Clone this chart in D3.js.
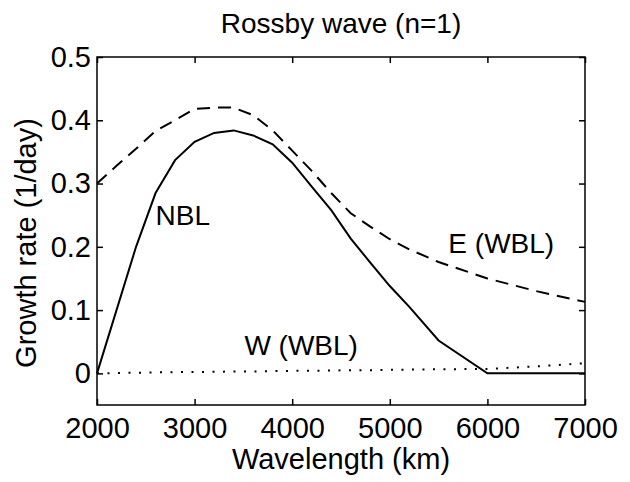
<!DOCTYPE html>
<html>
<head>
<meta charset="utf-8">
<script src="https://cdn.jsdelivr.net/npm/d3@7"></script>
<style>
  body { margin: 0; background: #fff; }
  text { font-family: "Liberation Sans", Arial, Helvetica, sans-serif; fill: #000; }
</style>
</head>
<body>
<div id="chart"></div>
<script>
// wavelength (km) and growth rate (1/day)
const wavelength = [2000, 2200, 2400, 2600, 2800, 3000, 3200, 3400, 3600, 3800, 4000, 4200, 4400, 4600, 4800, 5000, 5200, 5500, 6000, 6500, 7000];
const nbl      = [0, 0.10, 0.20, 0.285, 0.337, 0.366, 0.380, 0.384, 0.376, 0.362, 0.333, 0.295, 0.258, 0.213, 0.175, 0.138, 0.105, 0.052, 0, 0, 0];
const eastWbl  = [0.30, 0.328, 0.355, 0.383, 0.400, 0.418, 0.420, 0.420, 0.408, 0.384, 0.352, 0.320, 0.285, 0.253, 0.232, 0.212, 0.196, 0.176, 0.150, 0.130, 0.113];
const westWbl  = [0, 0.0005, 0.001, 0.0015, 0.002, 0.002, 0.0025, 0.003, 0.003, 0.0035, 0.004, 0.004, 0.0045, 0.005, 0.005, 0.0055, 0.006, 0.0065, 0.007, 0.011, 0.016];

const xTicks = [2000, 3000, 4000, 5000, 6000, 7000];
const yTicks = [0, 0.1, 0.2, 0.3, 0.4, 0.5];

const W = 630, H = 482;
const margin = {top: 57, right: 45, bottom: 77, left: 97};
const w = W - margin.left - margin.right,
      h = H - margin.top - margin.bottom;

const svg = d3.select("#chart").append("svg")
    .attr("width", W)
    .attr("height", H);

const g = svg.append("g")
    .attr("transform", "translate(" + margin.left + "," + margin.top + ")");

const x = d3.scaleLinear().domain([2000, 7000]).range([0, w]);
const y = d3.scaleLinear().domain([-0.05, 0.5]).range([h, 0]);

// curves
const line = d3.line()
    .x((d, i) => x(wavelength[i]))
    .y(d => y(d));

g.append("path").datum(nbl)
    .attr("d", line)
    .attr("fill", "none")
    .attr("stroke", "#000")
    .attr("stroke-width", 2);

g.append("path").datum(eastWbl)
    .attr("d", line)
    .attr("fill", "none")
    .attr("stroke", "#000")
    .attr("stroke-width", 2)
    .attr("stroke-dasharray", "13,8");

g.append("path").datum(westWbl)
    .attr("d", line)
    .attr("fill", "none")
    .attr("stroke", "#000")
    .attr("stroke-width", 2)
    .attr("stroke-dasharray", "2,8.5");

// axes, ticks pointing inward on all four sides
const tickLen = 6;
const axisStyle = sel => {
  sel.select(".domain").remove();
  sel.selectAll("line").attr("stroke", "#000").attr("stroke-width", 1.5);
  sel.selectAll("text").style("font-size", "29px");
};

g.append("g")
    .attr("transform", "translate(0," + h + ")")
    .call(d3.axisBottom(x).tickValues(xTicks).tickFormat(d3.format("d"))
      .tickSizeInner(-tickLen).tickPadding(12))
    .call(axisStyle)
    .selectAll("text").attr("dy", "0.71em");

g.append("g")
    .call(d3.axisTop(x).tickValues(xTicks).tickSizeInner(-tickLen).tickFormat(""))
    .call(axisStyle);

g.append("g")
    .call(d3.axisLeft(y).tickValues(yTicks).tickFormat(d => d === 0 ? "0" : d3.format(".1f")(d))
      .tickSizeInner(-tickLen).tickPadding(8))
    .call(axisStyle)
    .selectAll("text").attr("x", -6);

g.append("g")
    .attr("transform", "translate(" + w + ",0)")
    .call(d3.axisRight(y).tickValues(yTicks).tickSizeInner(-tickLen).tickFormat(""))
    .call(axisStyle);

// box
g.append("rect")
    .attr("width", w)
    .attr("height", h)
    .attr("fill", "none")
    .attr("stroke", "#000")
    .attr("stroke-width", 1.5);

// titles
svg.append("text")
    .attr("x", margin.left + w / 2)
    .attr("y", 33)
    .attr("text-anchor", "middle")
    .style("font-size", "28px")
    .text("Rossby wave (n=1)");

svg.append("text")
    .attr("x", margin.left + w / 2)
    .attr("y", 469)
    .attr("text-anchor", "middle")
    .style("font-size", "29px")
    .text("Wavelength (km)");

svg.append("text")
    .attr("transform", "translate(36,243) rotate(-90)")
    .attr("text-anchor", "middle")
    .style("font-size", "29px")
    .text("Growth rate (1/day)");

// curve labels
const labels = [
  {t: "NBL", wl: 2600, v: 0.235},
  {t: "E (WBL)", wl: 5600, v: 0.191},
  {t: "W (WBL)", wl: 3510, v: 0.029}
];
g.selectAll(".lab").data(labels).enter().append("text")
    .attr("class", "lab")
    .attr("x", d => x(d.wl))
    .attr("y", d => y(d.v))
    .style("font-size", "28px")
    .text(d => d.t);
</script>
</body>
</html>
